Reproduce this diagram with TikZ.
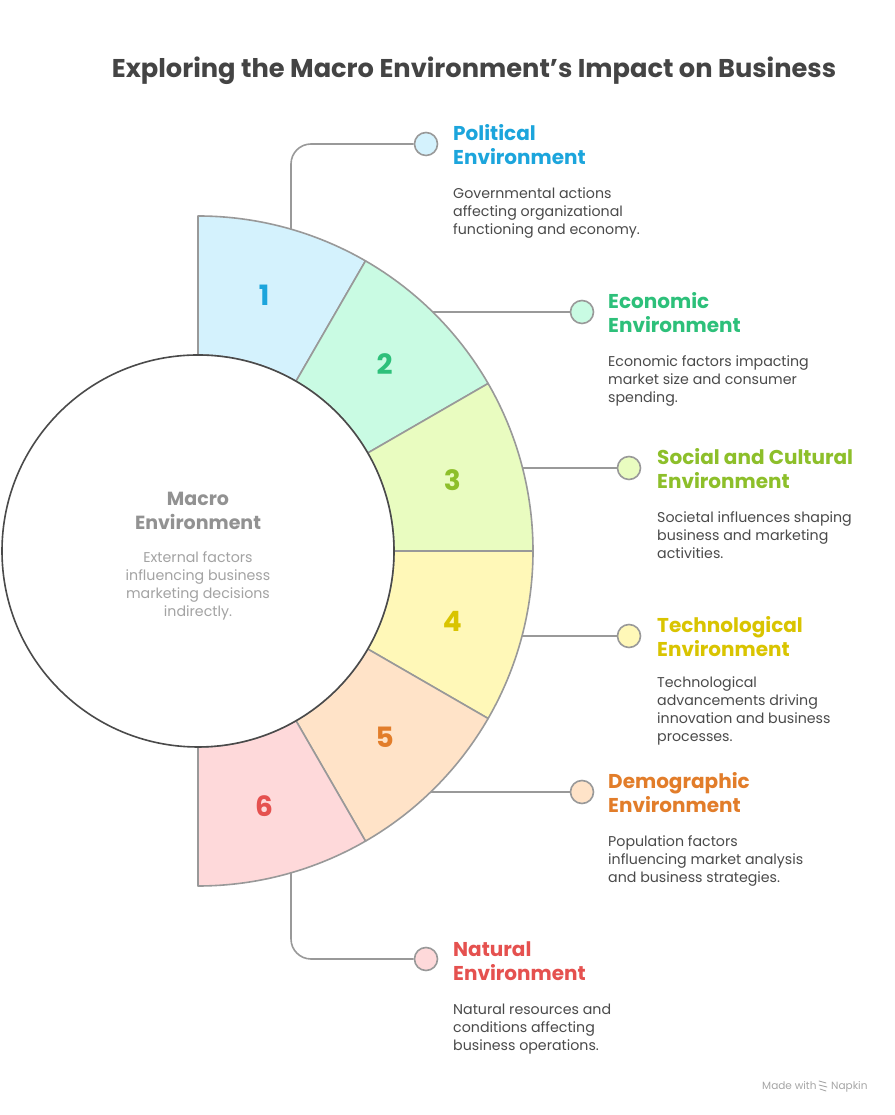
\documentclass[tikz,border=0pt]{standalone}
\usepackage{fontspec}
\setmainfont{Poppins}
\usetikzlibrary{calc}
\definecolor{segline}{HTML}{999999}
\definecolor{ringdark}{HTML}{4A4A4A}
\definecolor{desc}{HTML}{4A4A4A}
\definecolor{titlec}{HTML}{444444}
\definecolor{centt}{HTML}{929292}
\definecolor{centd}{HTML}{A3A3A3}
\definecolor{polT}{HTML}{1CA5DC}\definecolor{polF}{HTML}{D4F2FD}
\definecolor{ecoT}{HTML}{2DC07A}\definecolor{ecoF}{HTML}{C9FBE3}
\definecolor{socT}{HTML}{8DBF2A}\definecolor{socF}{HTML}{E9FCC0}
\definecolor{tecT}{HTML}{D9C400}\definecolor{tecF}{HTML}{FFF8B8}
\definecolor{demT}{HTML}{E27D2A}\definecolor{demF}{HTML}{FFE3C8}
\definecolor{natT}{HTML}{E5514F}\definecolor{natF}{HTML}{FED9DA}
\tikzset{
  segment/.style={draw=segline, line width=1.6pt, line join=round},
  conn/.style={draw=segline, line width=1.6pt, rounded corners=20pt},
  dot/.style={circle, draw=segline, line width=1.6pt, minimum size=23pt, inner sep=0pt},
  numlab/.style={font=\bfseries\fontsize{28}{28}\selectfont},
  headlab/.style={anchor=base west, inner sep=0pt, align=left, font=\bfseries\fontsize{20}{24}\selectfont},
  desclab/.style={anchor=base west, inner sep=0pt, align=left, text=desc, font=\fontsize{14.2}{18}\selectfont},
}
\begin{document}
\begin{tikzpicture}[x=1pt,y=1pt]
\useasboundingbox[fill=white] (0,0) rectangle (894,1115);
\coordinate (C) at (198,564);

% ring segments
\foreach \a/\f in {90/polF,60/ecoF,30/socF,0/tecF,-30/demF,-60/natF}{
  \filldraw[segment, fill=\f] ($(C)+(\a:196)$) -- ($(C)+(\a:335)$)
     arc[start angle=\a, end angle=\a-30, radius=335]
     -- ($(C)+(\a-30:196)$)
     arc[start angle=\a-30, end angle=\a, radius=196] -- cycle;
}
% inner circle
\node[circle, draw=ringdark, line width=1.6pt, fill=white, minimum size=392pt, inner sep=0pt] (core) at (C) {};

% numbers
\node[numlab, text=polT] (n1) at ($(C)+(75.5:264)$) {1};
\node[numlab, text=ecoT] (n2) at ($(C)+(45:264)$) {2};
\node[numlab, text=socT] (n3) at ($(C)+(15.5:264)$) {3};
\node[numlab, text=tecT] (n4) at ($(C)+(-15.5:264)$) {4};
\node[numlab, text=demT] (n5) at ($(C)+(-45:264)$) {5};
\node[numlab, text=natT] (n6) at ($(C)+(-75.5:264)$) {6};

% connector start points on outer arc
\coordinate (s1) at (291,886);
\coordinate (s2) at (433,803);
\coordinate (s3) at (523,647);
\coordinate (s4) at (522,479);
\coordinate (s5) at (431,323);
\coordinate (s6) at (291,242);

% dots
\node[dot, fill=polF] (d1) at (426,971) {};
\node[dot, fill=ecoF] (d2) at (582,803) {};
\node[dot, fill=socF] (d3) at (629,647) {};
\node[dot, fill=tecF] (d4) at (629,479) {};
\node[dot, fill=demF] (d5) at (582,323) {};
\node[dot, fill=natF] (d6) at (426,156) {};

% connectors
\draw[conn] (s1) |- (d1.west);
\draw[conn] (s2) -- (d2.west);
\draw[conn] (s3) -- (d3.west);
\draw[conn] (s4) -- (d4.west);
\draw[conn] (s5) -- (d5.west);
\draw[conn] (s6) |- (d6.west);

% title
\node[anchor=base, inner sep=0pt, text=titlec, font=\bfseries\fontsize{25.7}{30}\selectfont] (title) at (474,1037) {Exploring the Macro Environment{\char"27}s Impact on Business};

% center text
\node[anchor=base, inner sep=0pt, align=center, text=centt, font=\bfseries\fontsize{19}{24}\selectfont] (ct) at (198,585) {Macro\\Environment};
\node[anchor=base, inner sep=0pt, align=center, text=centd, font=\fontsize{14.2}{18}\selectfont] (cd) at (198,498) {External factors\\influencing business\\marketing decisions\\indirectly.};

% labels
\node[headlab, text=polT] (h1) at (453,950) {Political\\Environment};
\node[desclab] (t1) at (453,880) {Governmental actions\\affecting organizational\\functioning and economy.};

\node[headlab, text=ecoT] (h2) at (608,782) {Economic\\Environment};
\node[desclab] (t2) at (608,712) {Economic factors impacting\\market size and consumer\\spending.};

\node[headlab, text=socT] (h3) at (657,626) {Social and Cultural\\Environment};
\node[desclab] (t3) at (657,556) {Societal influences shaping\\business and marketing\\activities.};

\node[headlab, text=tecT] (h4) at (657,458) {Technological\\Environment};
\node[desclab] (t4) at (657,373) {Technological\\advancements driving\\innovation and business\\processes.};

\node[headlab, text=demT] (h5) at (608,302) {Demographic\\Environment};
\node[desclab] (t5) at (608,232) {Population factors\\influencing market analysis\\and business strategies.};

\node[headlab, text=natT] (h6) at (453,134) {Natural\\Environment};
\node[desclab] (t6) at (453,64) {Natural resources and\\conditions affecting\\business operations.};

% footer
\node[anchor=base west, inner sep=0pt, text=black!35, font=\fontsize{10.5}{12}\selectfont] (mw) at (762,25) {Made with};
\node[anchor=base west, inner sep=0pt, text=black!35, font=\fontsize{10.5}{12}\selectfont] (nap) at (831,25) {Napkin};
\coordinate (lg) at (823,29);
\draw[black!35, line width=0.9pt, line cap=round] ($(lg)+(-4,5)$) -- ($(lg)+(3,3)$) ($(lg)+(-4,1)$) -- ($(lg)+(4,-1)$) ($(lg)+(-3,-3)$) -- ($(lg)+(3,-5)$);
\end{tikzpicture}
\end{document}
